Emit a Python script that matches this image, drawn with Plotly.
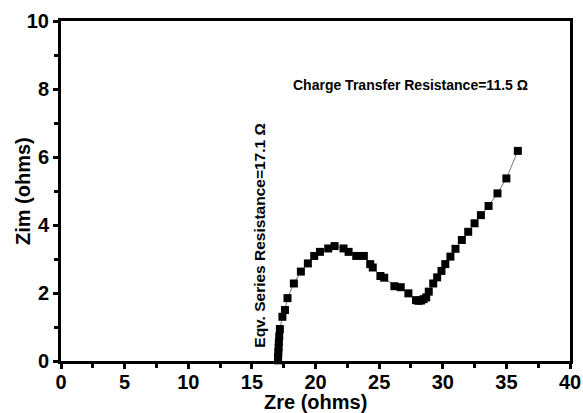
import plotly.graph_objects as go

# Nyquist plot data (real vs. imaginary impedance, ohms)
zre = [17.05, 17.06, 17.08, 17.10, 17.12, 17.15, 17.2, 17.4, 17.6, 17.8,
       18.3, 18.85, 19.4, 19.9, 20.35, 21.0, 21.5, 22.2, 22.6, 23.2,
       23.8, 24.3, 24.5, 25.1, 25.4, 26.2, 26.7, 27.3, 27.9, 28.1,
       28.3, 28.5, 28.7, 28.9, 29.25, 29.56, 29.9, 30.2, 30.6, 31.0,
       31.5, 32.0, 32.5, 33.0, 33.6, 34.3, 35.0, 35.9]
zim = [0.02, 0.12, 0.25, 0.40, 0.55, 0.72, 0.94, 1.3, 1.5, 1.85,
       2.28, 2.63, 2.87, 3.09, 3.21, 3.31, 3.38, 3.31, 3.21, 3.09,
       3.09, 2.85, 2.75, 2.5, 2.45, 2.2, 2.17, 1.99, 1.79, 1.77,
       1.78, 1.82, 1.87, 2.04, 2.28, 2.46, 2.65, 2.85, 3.07, 3.30,
       3.56, 3.80, 4.05, 4.29, 4.56, 4.93, 5.37, 6.18]

x_ticks = [0, 5, 10, 15, 20, 25, 30, 35, 40]
y_ticks = [0, 2, 4, 6, 8, 10]

font_family = "Arial, Liberation Sans, sans-serif"

fig = go.Figure()
fig.add_trace(go.Scatter(
    x=zre, y=zim, mode="lines+markers",
    line=dict(color="#777777", width=1),
    marker=dict(symbol="square", size=8, color="black"),
    cliponaxis=False, showlegend=False,
))

axis_common = dict(
    showline=True, linecolor="black", linewidth=3, mirror=True,
    ticks="outside", ticklen=5, tickwidth=3, tickcolor="black",
    showgrid=False, zeroline=False, automargin=False,
    tickfont=dict(family=font_family, size=20, color="black"),
)

fig.update_xaxes(
    range=[0, 40], tickvals=x_ticks, ticktext=[f"<b>{v}</b>" for v in x_ticks],
    minor=dict(dtick=2.5, ticks="outside", ticklen=4, tickwidth=2.5, tickcolor="black"),
    ticklabelstandoff=-4,
    **axis_common,
)
fig.update_yaxes(
    range=[0, 10], tickvals=y_ticks, ticktext=[f"<b>{v}</b>" for v in y_ticks],
    minor=dict(dtick=1, ticks="outside", ticklen=4, tickwidth=2.5, tickcolor="black"),
    **axis_common,
)

# Axis titles
title_font = dict(family=font_family, size=20, color="black")
fig.add_annotation(
    x=0.5, y=0, xref="paper", yref="paper", yshift=-41, yanchor="middle",
    showarrow=False, text="<b>Zre (ohms)</b>", font=title_font,
)
fig.add_annotation(
    x=0, y=0.5, xref="paper", yref="paper", xshift=-38, xanchor="center",
    showarrow=False, textangle=-90, text="<b>Zim (ohms)</b>", font=title_font,
)

# Resistance labels
fig.add_annotation(
    x=27.5, y=8.12, xref="x", yref="y", showarrow=False,
    text="<b>Charge Transfer Resistance=11.5 Ω</b>",
    font=dict(family=font_family, size=14, color="black"),
)
fig.add_annotation(
    x=15.6, y=3.7, xref="x", yref="y", showarrow=False, textangle=-90,
    text="<b>Eqv. Series Resistance=17.1 Ω</b>",
    font=dict(family=font_family, size=15.5, color="black"),
)

fig.update_layout(
    width=583, height=413,
    margin=dict(l=61, r=13, t=21, b=52),
    paper_bgcolor="white", plot_bgcolor="white",
)

fig.write_html("out.html")
